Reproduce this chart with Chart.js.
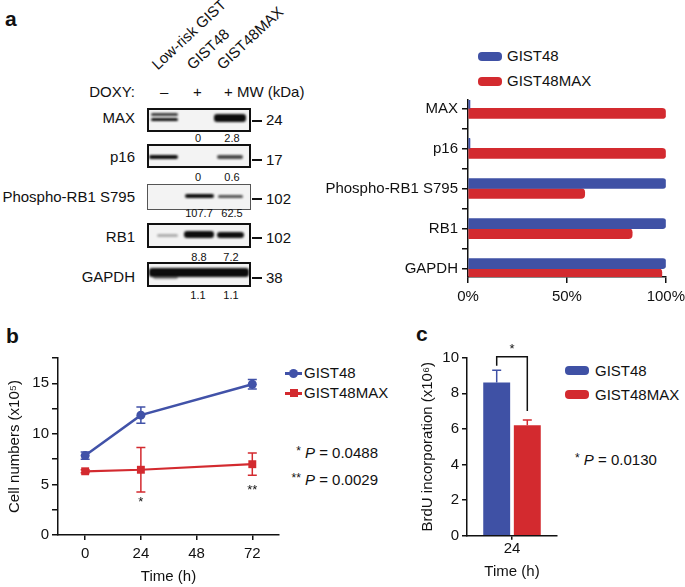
<!DOCTYPE html>
<html>
<head>
<meta charset="utf-8">
<script src="https://cdn.jsdelivr.net/npm/chart.js@4.4.1/dist/chart.umd.min.js"></script>
<style>
html,body{margin:0;padding:0;background:#fff;}
body{width:685px;height:587px;position:relative;overflow:hidden;font-family:"Liberation Sans",Arial,Helvetica,sans-serif;color:#111;}
.t{position:absolute;white-space:nowrap;font-size:15px;line-height:18px;}
.s{position:absolute;white-space:nowrap;font-size:11px;line-height:13px;width:40px;text-align:center;}
.r{position:absolute;left:0;text-align:right;white-space:nowrap;font-size:15px;line-height:18px;}
.panel{position:absolute;font-weight:bold;font-size:21px;line-height:22px;}
.box{position:absolute;box-sizing:border-box;border:2px solid #111;background:#f3f3f3;}
.band{position:absolute;background:#0d0d0d;border-radius:3px;filter:blur(0.8px);}
.dash{position:absolute;height:2px;width:10px;background:#111;left:252px;}
.rot{position:absolute;white-space:nowrap;font-size:15px;line-height:15px;transform-origin:0 100%;transform:rotate(-43deg);}
.sw{position:absolute;width:24px;height:9px;border-radius:4px;}
canvas{position:absolute;}
i{font-style:italic;}
.ast{font-size:12px;position:relative;top:-3px;}
</style>
</head>
<body>
<!-- panel labels -->
<div class="panel" style="left:5px;top:8px;">a</div>
<div class="panel" style="left:6px;top:325px;">b</div>
<div class="panel" style="left:416px;top:323px;">c</div>

<!-- western blot (image-like decoration) -->
<div class="rot" style="left:159px;top:57px;">Low-risk GIST</div>
<div class="rot" style="left:194px;top:57px;">GIST48</div>
<div class="rot" style="left:224px;top:57px;">GIST48MAX</div>

<div class="r" style="width:135px;top:83px;">DOXY:</div>
<div class="t" style="left:160px;top:83px;">–</div>
<div class="t" style="left:193px;top:83px;">+</div>
<div class="t" style="left:224px;top:83px;">+ MW (kDa)</div>

<div class="r" style="width:135px;top:109px;">MAX</div>
<div class="r" style="width:135px;top:148px;">p16</div>
<div class="r" style="width:135px;top:188px;">Phospho-RB1 S795</div>
<div class="r" style="width:135px;top:228px;">RB1</div>
<div class="r" style="width:135px;top:268px;">GAPDH</div>

<div class="box" style="left:147px;top:108px;width:104px;height:24px;"></div>
<div class="box" style="left:147px;top:144px;width:104px;height:24px;"></div>
<div class="box" style="left:147px;top:184px;width:104px;height:26px;border:1.5px solid #555;"></div>
<div class="box" style="left:147px;top:223px;width:104px;height:25px;"></div>
<div class="box" style="left:147px;top:262px;width:104px;height:25px;"></div>

<div class="band" style="left:151px;top:113px;width:27px;height:3px;opacity:.8;"></div>
<div class="band" style="left:151px;top:118px;width:27px;height:3px;"></div>
<div class="band" style="left:214px;top:114px;width:32px;height:8px;"></div>
<div class="band" style="left:149px;top:155px;width:29px;height:4px;"></div>
<div class="band" style="left:217px;top:155px;width:26px;height:4px;opacity:.75;"></div>
<div class="band" style="left:185px;top:194px;width:29px;height:4px;"></div>
<div class="band" style="left:218px;top:195px;width:25px;height:3px;opacity:.7;"></div>
<div class="band" style="left:157px;top:234px;width:21px;height:3px;opacity:.3;"></div>
<div class="band" style="left:184px;top:231px;width:30px;height:7px;"></div>
<div class="band" style="left:217px;top:232px;width:27px;height:6px;"></div>
<div class="band" style="left:149px;top:268px;width:100px;height:9px;"></div>
<div class="band" style="left:153px;top:275px;width:25px;height:4px;opacity:.45;"></div>

<div class="dash" style="top:120px;"></div>
<div class="dash" style="top:159px;"></div>
<div class="dash" style="top:198px;"></div>
<div class="dash" style="top:237px;"></div>
<div class="dash" style="top:277px;"></div>
<div class="t" style="left:266px;top:111px;">24</div>
<div class="t" style="left:266px;top:151px;">17</div>
<div class="t" style="left:266px;top:190px;">102</div>
<div class="t" style="left:266px;top:229px;">102</div>
<div class="t" style="left:266px;top:269px;">38</div>

<div class="s" style="left:178px;top:132px;">0</div>
<div class="s" style="left:212px;top:132px;">2.8</div>
<div class="s" style="left:178px;top:171px;">0</div>
<div class="s" style="left:212px;top:171px;">0.6</div>
<div class="s" style="left:179px;top:207px;">107.7</div>
<div class="s" style="left:212px;top:207px;">62.5</div>
<div class="s" style="left:179px;top:251px;">8.8</div>
<div class="s" style="left:211px;top:251px;">7.2</div>
<div class="s" style="left:178px;top:289px;">1.1</div>
<div class="s" style="left:211px;top:289px;">1.1</div>

<!-- legends -->
<div class="sw" style="left:478px;top:52px;background:#3f51a5;"></div>
<div class="t" style="left:507px;top:47px;">GIST48</div>
<div class="sw" style="left:478px;top:77px;background:#d32a2f;"></div>
<div class="t" style="left:507px;top:72px;">GIST48MAX</div>

<div style="position:absolute;left:285px;top:372px;width:17px;height:2.5px;background:#4152a8;"></div>
<div style="position:absolute;left:289px;top:368.5px;width:9px;height:9px;border-radius:50%;background:#4152a8;"></div>
<div class="t" style="left:304px;top:364px;">GIST48</div>
<div style="position:absolute;left:285px;top:392px;width:17px;height:2.5px;background:#d32a2f;"></div>
<div style="position:absolute;left:289.5px;top:389px;width:8px;height:8px;background:#d32a2f;"></div>
<div class="t" style="left:304px;top:384px;">GIST48MAX</div>

<div class="sw" style="left:565px;top:366px;background:#3f51a5;"></div>
<div class="t" style="left:595px;top:362px;">GIST48</div>
<div class="sw" style="left:565px;top:390px;background:#d32a2f;"></div>
<div class="t" style="left:595px;top:386px;">GIST48MAX</div>

<div class="r" style="width:378px;top:444px;"><span class="ast">*</span> <i>P</i> = 0.0488</div>
<div class="r" style="width:378px;top:471px;"><span class="ast">**</span> <i>P</i> = 0.0029</div>
<div class="t" style="left:575px;top:451px;"><span class="ast">*</span> <i>P</i> = 0.0130</div>

<canvas id="ca" width="390" height="228" style="left:300px;top:87px;"></canvas>
<canvas id="cb" width="291" height="247" style="left:0px;top:340px;"></canvas>
<canvas id="cc" width="185" height="247" style="left:380px;top:340px;"></canvas>

<script>
// ---------- data ----------
// Panel a: quantification (% of max)
const proteinsA = ['MAX', 'p16', 'Phospho-RB1 S795', 'RB1', 'GAPDH'];
const gist48PctA = [1, 1, 100, 100, 100];
const gist48maxPctA = [100, 100, 59, 83, 98];
const pctTicksA = [0, 50, 100];

// Panel b: cell growth
const timesB = [0, 24, 72];
const timeTicksB = [0, 24, 48, 72];
const gist48CellsB = [7.85, 11.85, 14.9];
const gist48ErrB = [0.35, 0.8, 0.47];
const gist48maxCellsB = [6.3, 6.45, 7.0];
const gist48maxErrB = [0.15, 2.2, 1.1];
const cellTicksB = [0, 2.5, 5, 7.5, 10, 12.5, 15, 17.5];
const sigTimesB = [24, 72];
const sigTextB = ['*', '**'];

// Panel c: BrdU incorporation
const timeLabelsC = ['24'];
const gist48BrdUC = [8.6];
const gist48ErrC = [0.7];
const gist48maxBrdUC = [6.2];
const gist48maxErrC = [0.3];

// ---------- styling ----------
const BLUE = '#3f51a5', BLUE_L = '#4152a8', RED = '#d32a2f', INK = '#111';
Chart.defaults.font.family = '"Liberation Sans", Arial, Helvetica, sans-serif';
Chart.defaults.font.size = 15;
Chart.defaults.color = INK;
Chart.defaults.animation = false;

const axisGrid = (len) => ({display: true, drawOnChartArea: false, drawTicks: true, tickLength: len, color: INK, lineWidth: 1.5});
const axisBorder = {display: true, color: INK, width: 1.5};

// error bar plugin
const errorBars = {
  id: 'errorBars',
  beforeDatasetsDraw(chart, args, opts) {
    const ctx = chart.ctx;
    chart.data.datasets.forEach((ds, di) => {
      if (!ds.errors) return;
      const meta = chart.getDatasetMeta(di);
      const ys = chart.scales[meta.yAxisID];
      ctx.save();
      ctx.strokeStyle = ds.errColor || ds.borderColor;
      ctx.lineWidth = 1.5;
      meta.data.forEach((el, i) => {
        const v = ds.data[i].y !== undefined ? ds.data[i].y : ds.data[i];
        const e = ds.errors[i];
        const yTop = ys.getPixelForValue(v + e);
        const yBot = opts.upOnly ? ys.getPixelForValue(v) : ys.getPixelForValue(v - e);
        const x = el.x, c = opts.cap || 4.5;
        ctx.beginPath();
        ctx.moveTo(x, yTop); ctx.lineTo(x, yBot);
        ctx.moveTo(x - c, yTop); ctx.lineTo(x + c, yTop);
        if (!opts.upOnly) { ctx.moveTo(x - c, yBot); ctx.lineTo(x + c, yBot); }
        ctx.stroke();
      });
      ctx.restore();
    });
  }
};

// ---------- panel a ----------
new Chart(document.getElementById('ca'), {
  type: 'bar',
  data: {
    datasets: [
      {label: 'GIST48', data: gist48PctA.map((v, i) => ({x: v, y: i})), backgroundColor: BLUE, borderRadius: 3, borderSkipped: 'start'},
      {label: 'GIST48MAX', data: gist48maxPctA.map((v, i) => ({x: v, y: i})), backgroundColor: RED, borderRadius: 4, borderSkipped: 'start'}
    ]
  },
  options: {
    responsive: false,
    indexAxis: 'y',
    barThickness: 10,
    layout: {padding: {top: 0, right: 19, bottom: 0, left: 0}},
    plugins: {legend: {display: false}, tooltip: {enabled: false}},
    scales: {
      x: {
        type: 'linear', position: 'bottom', min: 0, max: 100,
        afterBuildTicks: s => { s.ticks = pctTicksA.map(v => ({value: v})); },
        afterFit: s => { s.height = 38; },
        ticks: {callback: v => v + '%', padding: 5, maxRotation: 0, autoSkip: false},
        grid: axisGrid(6), border: axisBorder
      },
      y: {
        type: 'linear', position: 'left', reverse: true, offset: false, min: -0.21, max: 4.21,
        afterBuildTicks: s => { const t = []; for (let v = 0; v <= proteinsA.length - 1; v += 0.5) t.push({value: v}); s.ticks = t; },
        afterFit: s => { s.width = 168; },
        ticks: {callback: v => Number.isInteger(v) ? proteinsA[v] : '', padding: 4, autoSkip: false},
        grid: Object.assign(axisGrid(6), {offset: false}), border: axisBorder
      }
    }
  }
});

// ---------- panel b ----------
const starLabels = {
  id: 'starLabels',
  afterDatasetsDraw(chart, args, opts) {
    const ctx = chart.ctx, xs = chart.scales.x, ys = chart.scales.y;
    ctx.save();
    ctx.fillStyle = INK;
    ctx.font = '13px "Liberation Sans", Arial, sans-serif';
    ctx.textAlign = 'center';
    ctx.textBaseline = 'middle';
    sigTimesB.forEach((t, i) => {
      ctx.fillText(sigTextB[i], xs.getPixelForValue(t), ys.getPixelForValue(opts.levels[i]));
    });
    ctx.restore();
  }
};

new Chart(document.getElementById('cb'), {
  type: 'line',
  data: {
    datasets: [
      {label: 'GIST48', data: timesB.map((t, i) => ({x: t, y: gist48CellsB[i]})), errors: gist48ErrB,
       borderColor: BLUE_L, backgroundColor: BLUE_L, borderWidth: 2.5, pointRadius: 4.5, pointStyle: 'circle', pointBorderWidth: 0, tension: 0},
      {label: 'GIST48MAX', data: timesB.map((t, i) => ({x: t, y: gist48maxCellsB[i]})), errors: gist48maxErrB,
       borderColor: RED, backgroundColor: RED, borderWidth: 2.2, pointRadius: 5.6, pointStyle: 'rect', pointBorderWidth: 0, tension: 0}
    ]
  },
  options: {
    responsive: false,
    layout: {padding: {top: 18, right: 12, bottom: 0, left: 0}},
    plugins: {legend: {display: false}, tooltip: {enabled: false}, errorBars: {cap: 4.5}, starLabels: {levels: [3.25, 4.4]}},
    scales: {
      x: {
        type: 'linear', min: -11.7, max: 83.5,
        afterBuildTicks: s => { s.ticks = timeTicksB.map(v => ({value: v})); },
        afterFit: s => { s.height = 52; },
        ticks: {padding: 5, maxRotation: 0, autoSkip: false},
        grid: axisGrid(5), border: axisBorder,
        title: {display: true, text: 'Time (h)', font: {size: 15}, padding: {top: 0, bottom: 1}}
      },
      y: {
        type: 'linear', min: 0, max: 17.5,
        afterBuildTicks: s => { s.ticks = cellTicksB.map(v => ({value: v})); },
        afterFit: s => { s.width = 58; },
        ticks: {callback: v => (v % 5 === 0 ? v : ''), padding: 3, autoSkip: false},
        grid: axisGrid(6), border: axisBorder,
        title: {display: true, text: 'Cell numbers (x10⁵)', font: {size: 15}, padding: {top: 6, bottom: 0}}
      }
    }
  },
  plugins: [errorBars, starLabels]
});

// ---------- panel c ----------
const sigBracket = {
  id: 'sigBracket',
  afterDatasetsDraw(chart, args, opts) {
    const ctx = chart.ctx, ys = chart.scales.y;
    const a = chart.getDatasetMeta(0).data[0], b = chart.getDatasetMeta(1).data[0];
    const yTop = ys.getPixelForValue(opts.top);
    ctx.save();
    ctx.strokeStyle = INK; ctx.lineWidth = 1.5;
    ctx.beginPath();
    ctx.moveTo(a.x, ys.getPixelForValue(opts.leftEnd));
    ctx.lineTo(a.x, yTop); ctx.lineTo(b.x, yTop);
    ctx.lineTo(b.x, ys.getPixelForValue(opts.rightEnd));
    ctx.stroke();
    ctx.fillStyle = INK;
    ctx.font = '13px "Liberation Sans", Arial, sans-serif';
    ctx.textAlign = 'center'; ctx.textBaseline = 'middle';
    ctx.fillText(opts.text, (a.x + b.x) / 2, yTop - 7);
    ctx.restore();
  }
};

new Chart(document.getElementById('cc'), {
  type: 'bar',
  data: {
    labels: timeLabelsC,
    datasets: [
      {label: 'GIST48', data: gist48BrdUC, errors: gist48ErrC, backgroundColor: BLUE, errColor: BLUE},
      {label: 'GIST48MAX', data: gist48maxBrdUC, errors: gist48maxErrC, backgroundColor: RED, errColor: RED}
    ]
  },
  options: {
    responsive: false,
    categoryPercentage: 0.68,
    barPercentage: 0.88,
    layout: {padding: {top: 17.7, right: 8, bottom: 0, left: 0}},
    plugins: {legend: {display: false}, tooltip: {enabled: false}, errorBars: {cap: 4.5, upOnly: true},
              sigBracket: {top: 10.05, leftEnd: 9.55, rightEnd: 7.0, text: '*'}},
    scales: {
      x: {
        afterFit: s => { s.height = 51.3; },
        ticks: {padding: 0, maxRotation: 0},
        grid: Object.assign(axisGrid(4), {offset: false}), border: axisBorder,
        title: {display: true, text: 'Time (h)', font: {size: 15}, padding: {top: 0, bottom: 6}}
      },
      y: {
        min: 0, max: 10,
        ticks: {stepSize: 2, padding: 3},
        afterFit: s => { s.width = 87; },
        grid: axisGrid(5), border: axisBorder,
        title: {display: true, text: 'BrdU incorporation (x10⁶)', font: {size: 15}, padding: {top: 39, bottom: 0}}
      }
    }
  },
  plugins: [errorBars, sigBracket]
});
</script>
</body>
</html>
